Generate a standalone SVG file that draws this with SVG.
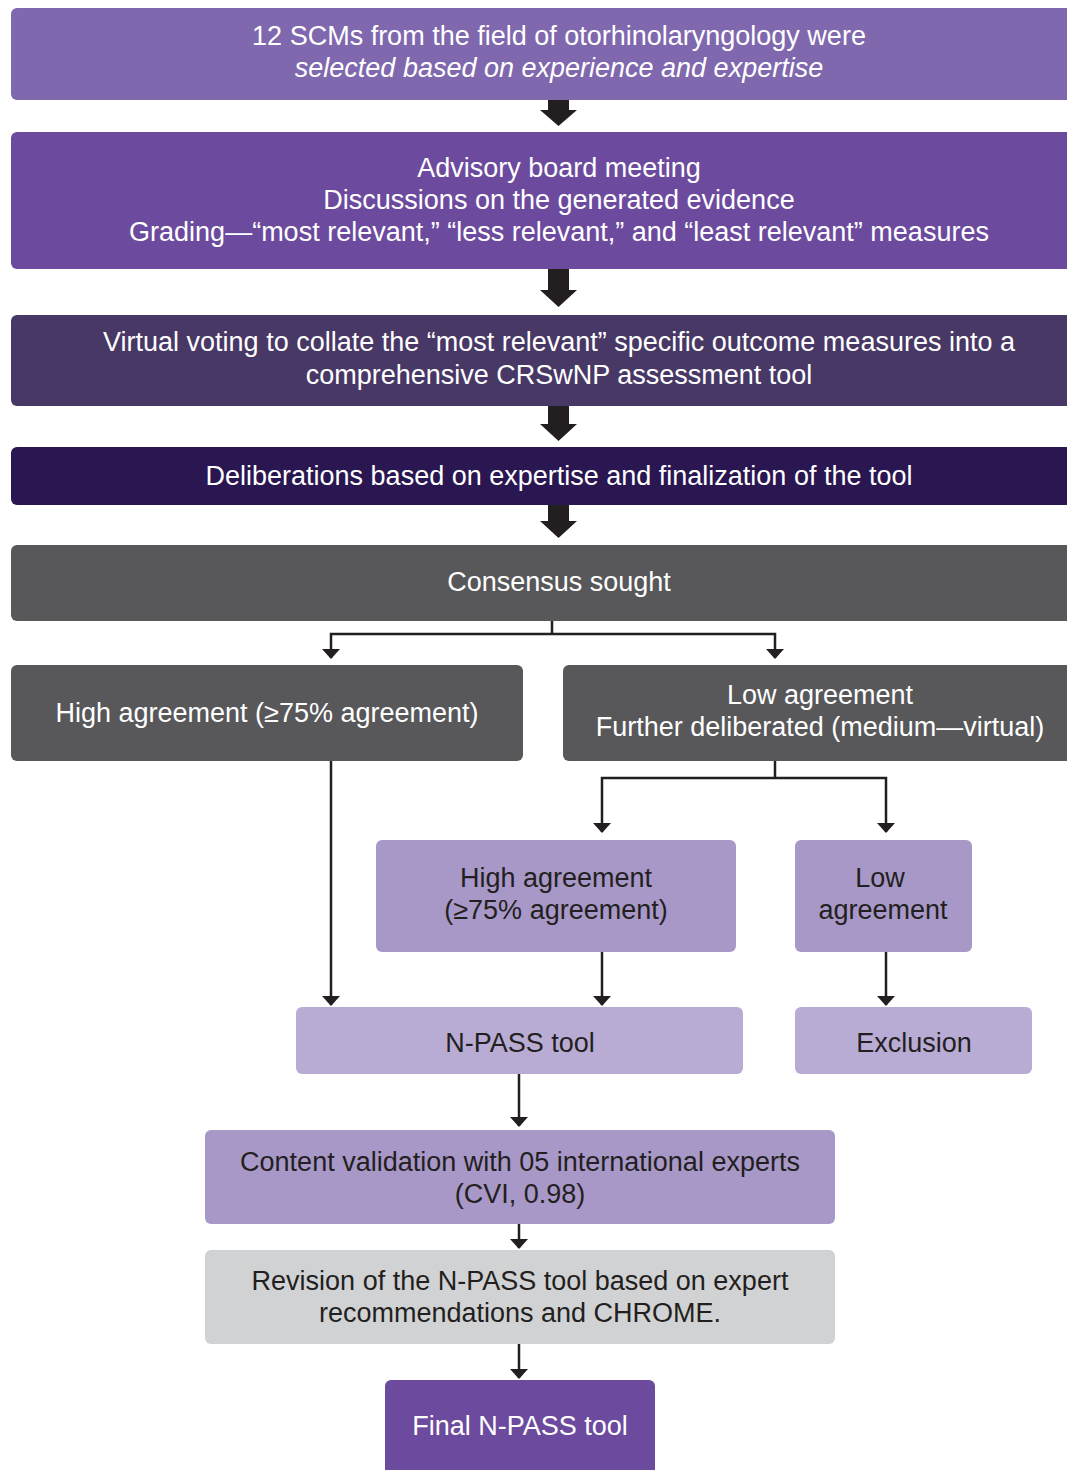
<svg xmlns="http://www.w3.org/2000/svg" width="1067" height="1470" viewBox="0 0 1067 1470">
<style>
text{font-family:"Liberation Sans",Arial,sans-serif;font-size:27px;text-anchor:middle}
.w{fill:#ffffff}
.d{fill:#231f20}
.c{stroke:#231f20;stroke-width:2.5;fill:none}
.h{fill:#231f20}
</style>
<defs>
<marker id="ah" markerWidth="10" markerHeight="18" refX="9" refY="9" markerUnits="userSpaceOnUse" orient="auto-start-reverse" viewBox="0 0 10 18">
<path d="M0,0 L10,9 L0,18 Z" fill="#231f20"/>
</marker>
</defs>
<g id="n1"><rect x="11" y="8" width="1080" height="92" rx="6" fill="#8068ae"/>
<text class="w" x="559" y="45">12 SCMs from the field of otorhinolaryngology were</text>
<text class="w" x="559" y="77" font-style="italic">selected based on experience and expertise</text></g>
<g id="n2"><rect x="11" y="132" width="1080" height="137" rx="6" fill="#6c4b9e"/>
<text class="w" x="559" y="177">Advisory board meeting</text>
<text class="w" x="559" y="209">Discussions on the generated evidence</text>
<text class="w" x="559" y="241">Grading—“most relevant,” “less relevant,” and “least relevant” measures</text></g>
<g id="n3"><rect x="11" y="315" width="1080" height="91" rx="6" fill="#483866"/>
<text class="w" x="559" y="351">Virtual voting to collate the “most relevant” specific outcome measures into a</text>
<text class="w" x="559" y="384">comprehensive CRSwNP assessment tool</text></g>
<g id="n4"><rect x="11" y="447" width="1080" height="58" rx="6" fill="#2a1650"/>
<text class="w" x="559" y="485">Deliberations based on expertise and finalization of the tool</text></g>
<g id="n5"><rect x="11" y="545" width="1080" height="76" rx="6" fill="#58585a"/>
<text class="w" x="559" y="591">Consensus sought</text></g>
<g id="n6"><rect x="11" y="665" width="512" height="96" rx="6" fill="#58585a"/>
<text class="w" x="267" y="722">High agreement (≥75% agreement)</text></g>
<g id="n7"><rect x="563" y="665" width="520" height="96" rx="6" fill="#58585a"/>
<text class="w" x="820" y="704">Low agreement</text>
<text class="w" x="820" y="736">Further deliberated (medium—virtual)</text></g>
<g id="n8"><rect x="376" y="840" width="360" height="112" rx="6" fill="#a898c8"/>
<text class="d" x="556" y="887">High agreement</text>
<text class="d" x="556" y="919">(≥75% agreement)</text></g>
<g id="n9"><rect x="795" y="840" width="177" height="112" rx="6" fill="#a898c8"/>
<text class="d" x="880" y="887">Low</text>
<text class="d" x="883" y="919">agreement</text></g>
<g id="n10"><rect x="296" y="1007" width="447" height="67" rx="6" fill="#b9acd4"/>
<text class="d" x="520" y="1052">N-PASS tool</text></g>
<g id="n11"><rect x="795" y="1007" width="237" height="67" rx="6" fill="#b9acd4"/>
<text class="d" x="914" y="1052">Exclusion</text></g>
<g id="n12"><rect x="205" y="1130" width="630" height="94" rx="6" fill="#a898c8"/>
<text class="d" x="520" y="1171">Content validation with 05 international experts</text>
<text class="d" x="520" y="1203">(CVI, 0.98)</text></g>
<g id="n13"><rect x="205" y="1250" width="630" height="94" rx="6" fill="#d1d2d4"/>
<text class="d" x="520" y="1290">Revision of the N-PASS tool based on expert</text>
<text class="d" x="520" y="1322">recommendations and CHROME.</text></g>
<g id="n14"><rect x="385" y="1380" width="270" height="100" rx="6" fill="#6c4b9e"/>
<text class="w" x="520" y="1435">Final N-PASS tool</text></g>
<g id="connectors">
<path class="h" d="M548,100 H569 V110 H577 L558.5,126 L540,110 H548 Z"/>
<path class="h" d="M548,269 H569 V290 H577 L558.5,307 L540,290 H548 Z"/>
<path class="h" d="M548,406 H569 V424 H577 L558.5,441 L540,424 H548 Z"/>
<path class="h" d="M548,505 H569 V521 H577 L558.5,538 L540,521 H548 Z"/>
<path class="c" d="M552,621 V634"/>
<path class="c" d="M331,658 V634 H775 V658" marker-start="url(#ah)" marker-end="url(#ah)"/>
<path class="c" d="M775,761 V778"/>
<path class="c" d="M602,832 V778 H886 V832" marker-start="url(#ah)" marker-end="url(#ah)"/>
<path class="c" d="M331,761 V1005" marker-end="url(#ah)"/>
<path class="c" d="M602,952 V1005" marker-end="url(#ah)"/>
<path class="c" d="M886,952 V1005" marker-end="url(#ah)"/>
<path class="c" d="M519,1074 V1126" marker-end="url(#ah)"/>
<path class="c" d="M519,1224 V1248" marker-end="url(#ah)"/>
<path class="c" d="M519,1344 V1378" marker-end="url(#ah)"/>
</g>
</svg>
